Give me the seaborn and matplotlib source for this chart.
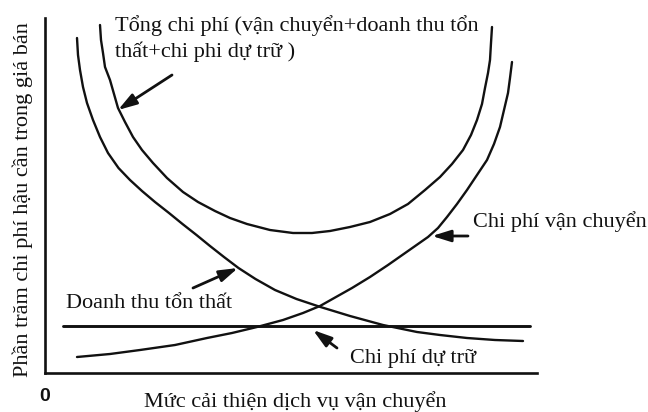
import matplotlib
matplotlib.use("Agg")
import matplotlib.pyplot as plt
import seaborn as sns
import pandas as pd

# ---- data (arbitrary units: service level vs % of sales) ----
inventory_x = [6.4, 6.6, 7.0, 7.6, 8.4, 9.6, 11.0, 12.6, 14.7, 17.0, 19.4, 22.0, 24.8, 27.5,
               30.3, 33.0, 35.8, 38.7, 42.1, 46.0, 50.3, 55.1, 61.0, 67.6, 74.4, 79.0, 84.4, 90.0, 95.6]
inventory_y = [67.0, 63.6, 60.6, 57.2, 54.0, 50.6, 47.2, 44.0, 41.0, 38.6, 36.4, 34.2, 32.0, 29.8,
               27.6, 25.4, 23.2, 21.0, 18.8, 16.6, 14.8, 13.2, 11.4, 9.6, 8.2, 7.6, 7.0, 6.6, 6.4]

total_x = [11.0, 11.2, 11.6, 12.0, 13.0, 13.8, 14.6, 16.0, 17.6, 19.4, 21.6, 24.4, 27.6, 30.6,
           34.0, 37.0, 40.4, 45.0, 49.6, 53.4, 57.0, 61.0, 65.0, 69.0, 72.6, 76.0, 79.0, 81.4,
           83.6, 85.2, 86.4, 87.4, 88.0, 88.6, 89.0, 89.2, 89.4]
total_y = [69.6, 66.6, 64.0, 61.2, 58.6, 55.8, 53.0, 50.2, 47.2, 44.6, 42.0, 39.0, 36.2, 34.2,
           32.4, 31.0, 29.8, 28.6, 28.0, 28.0, 28.4, 29.2, 30.2, 31.8, 33.8, 36.6, 39.2, 41.8,
           44.6, 47.6, 50.6, 53.8, 57.0, 60.0, 62.6, 66.0, 69.2]

transport_x = [6.4, 13.0, 19.0, 26.0, 32.4, 37.4, 42.4, 47.6, 51.6, 55.0, 58.2, 61.4, 65.0, 68.6,
               72.6, 76.6, 78.6, 80.4, 82.4, 84.4, 86.4, 88.4, 89.8, 91.0, 91.8, 92.6, 93.0, 93.4]
transport_y = [3.2, 3.8, 4.6, 5.6, 7.0, 8.0, 9.2, 10.6, 12.0, 13.4, 15.2, 17.0, 19.2, 21.6,
               24.4, 27.2, 29.0, 31.2, 33.8, 36.6, 39.6, 42.6, 45.8, 49.2, 52.6, 56.0, 59.0, 62.2]

lost_x = [3.6, 97.0]
lost_y = [9.4, 9.4]

x_ticks = [0]
x_tick_labels = ["0"]

label_total = "Tổng chi phí (vận chuyển+doanh thu tổn\nthất+chi phi dự trữ )"
label_transport = "Chi phí vận chuyển"
label_lost = "Doanh thu tổn thất"
label_inventory = "Chi phí dự trữ"
x_title = "Mức cải thiện dịch vụ vận chuyển"
y_title = "Phần trăm chi phí hậu cần trong giá bán"

# ---- build table ----
frames = []
for name, xs, ys in [("inventory", inventory_x, inventory_y),
                     ("total", total_x, total_y),
                     ("transport", transport_x, transport_y),
                     ("lost", lost_x, lost_y)]:
    frames.append(pd.DataFrame({"x": xs, "y": ys, "series": name}))
df = pd.concat(frames, ignore_index=True)

sns.set_theme(style="white")
plt.rcParams["font.family"] = ["Liberation Serif", "DejaVu Serif"]

fig = plt.figure(figsize=(6.48, 4.12), dpi=100)
ax = fig.add_axes([45 / 648, 39 / 412, 492 / 648, 355 / 412])

ink = "#111111"
for name, g in df.groupby("series", sort=False):
    lw = 2.1 if name == "lost" else 1.7
    sns.lineplot(data=g, x="x", y="y", ax=ax, sort=False, estimator=None,
                 color=ink, linewidth=lw, legend=False)

ax.set_xlim(0, 98.4)
ax.set_ylim(0, 71)

for side in ["top", "right"]:
    ax.spines[side].set_visible(False)
for side in ["left", "bottom"]:
    ax.spines[side].set_color(ink)
    ax.spines[side].set_linewidth(1.9)

ax.set_xticks(x_ticks)
ax.set_xticklabels(x_tick_labels, fontfamily="Liberation Sans", fontweight="bold", fontsize=14)
ax.set_yticks([])
ax.tick_params(axis="x", length=0, pad=11, colors=ink)

fs = 16
ax.set_xlabel(x_title, fontsize=fs, color=ink)
ax.xaxis.set_label_coords((295 - 45) / 492, (373 - 391) / 355)
ax.set_ylabel(y_title, fontsize=fs, color=ink)
ax.yaxis.label.set_va("center")
ax.yaxis.label.set_ha("center")
ax.yaxis.set_label_coords((23 - 45) / 492, (373 - 200) / 355)

# labels
ax.text(14.0, 63.2, label_total, fontsize=fs, color=ink, ha="left", va="baseline",
        linespacing=1.34, clip_on=False)
ax.text(85.6, 29.2, label_transport, fontsize=fs, color=ink, ha="left", va="baseline", clip_on=False)
ax.text(4.2, 13.0, label_lost, fontsize=fs, color=ink, ha="left", va="baseline", clip_on=False)
ax.text(61.0, 2.0, label_inventory, fontsize=fs, color=ink, ha="left", va="baseline", clip_on=False)

arrow = dict(arrowstyle="-|>,head_length=0.8,head_width=0.25", color=ink, lw=2.0,
             mutation_scale=14, shrinkA=0, shrinkB=0)
ax.annotate("", xy=(14.6, 52.6), xytext=(25.4, 59.6), arrowprops=arrow)
ax.annotate("", xy=(38.6, 21.0), xytext=(29.6, 17.0), arrowprops=arrow)
ax.annotate("", xy=(77.4, 27.4), xytext=(84.6, 27.4), arrowprops=arrow)
ax.annotate("", xy=(53.6, 8.6), xytext=(58.4, 5.0), arrowprops=arrow)

fig.savefig("out.png", dpi=100, facecolor="white")
